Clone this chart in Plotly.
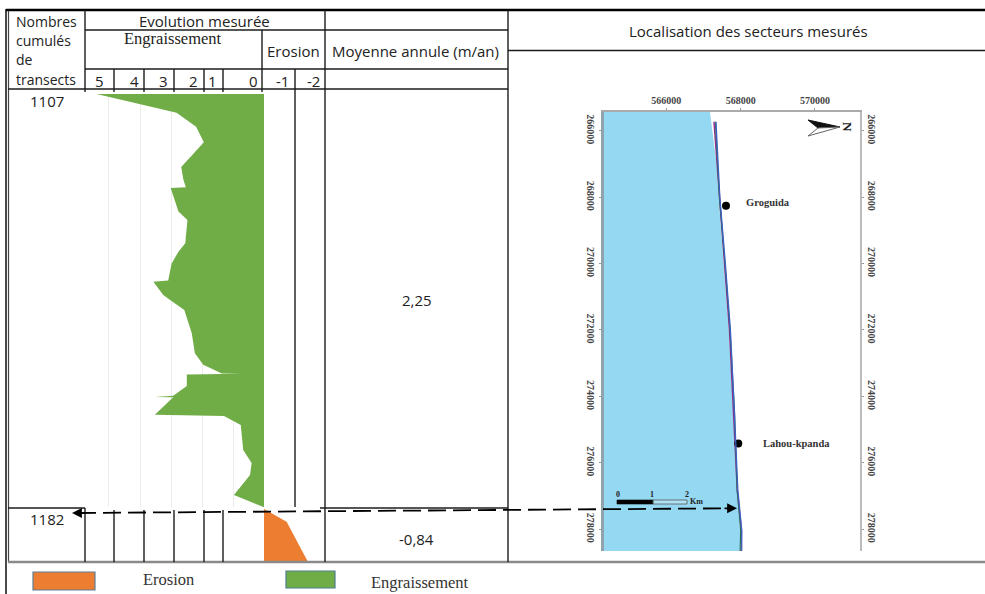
import plotly.graph_objects as go

W, H = 985, 594

# Cumulative transects and measured evolution (m/an)
gain_transects = [0, 50, 88, 129, 196, 230, 250, 252, 315, 338, 400, 423, 454, 500, 503, 539, 552, 579,
                  641, 695, 726, 749, 750, 752, 783, 809, 812, 813, 860, 863, 887, 954, 989, 1021, 1075, 1107]
gain_values = [5.40, 2.82, 2.19, 1.94, 2.67, 2.60, 2.52, 3.01, 2.76, 2.47, 2.54, 2.76, 2.98, 3.09, 3.57, 3.25, 3.03, 2.57,
               2.33, 2.23, 1.96, 1.36, 0.72, 2.49, 2.49, 2.93, 3.52, 2.93, 3.52, 1.29, 0.75, 0.67, 0.40, 0.45, 0.97, 0.02]
loss_transects = [1107, 1125, 1182]
loss_values = [0.0, -0.73, -1.42]

# Map: coast and shorelines (projected metres)
north = [265437, 267033, 268000, 270015, 272003, 274413, 276822, 278027, 278660]
coast_east = [567176, 567356, 567410, 567540, 567680, 567800, 567900, 567985, 568000]
west_edge = [564311]
shore_north = [265732, 267033, 268000, 270015, 272003, 274413, 276822, 278027, 278660]
shore_blue = [567337, 567395, 567440, 567590, 567725, 567830, 567925, 568030, 568025]
shore_purple = [567283, 567372, 567440, 567570, 567700, 567805, 567910, 568020, 568020]
shore_green = [567320, 567385, 567425, 567580, 567715, 567835, 567905, 568000, 567985]
place_names = ["Groguida", "Lahou-kpanda"]
place_east = [567606, 567937]
place_north = [268259, 275416]

x_ticks = [566000, 568000, 570000]
y_ticks = [266000, 268000, 270000, 272000, 274000, 276000, 278000]
scale_ticks = ["0", "1", "2"]


def px(x):
    return x / W


def py(y):
    return 1 - y / H


def dom_x(a, b):
    return [px(a), px(b)]


def dom_y(top, bottom):
    return [py(bottom), py(top)]


fig = go.Figure()

fig.add_trace(go.Scatter(x=gain_values, y=gain_transects, xaxis="x", yaxis="y", mode="lines",
                         line=dict(width=0, color="#70AD47"), fill="tozerox", fillcolor="#70AD47"))
fig.add_trace(go.Scatter(x=loss_values, y=loss_transects, xaxis="x2", yaxis="y2", mode="lines",
                         line=dict(width=0, color="#ED7D31"), fill="tozerox", fillcolor="#ED7D31"))

fig.add_trace(go.Scatter(x=coast_east + west_edge * 2 + coast_east[:1],
                         y=north + [north[-1], north[0], north[0]],
                         xaxis="x3", yaxis="y3", mode="lines", line=dict(width=0),
                         fill="toself", fillcolor="#95D8F2"))
fig.add_trace(go.Scatter(x=shore_blue, y=shore_north, xaxis="x3", yaxis="y4", mode="lines",
                         line=dict(width=1.3, color="#3A62C4")))
fig.add_trace(go.Scatter(x=shore_purple, y=shore_north, xaxis="x3", yaxis="y3", mode="lines",
                         line=dict(width=1.5, color="#93308C")))
fig.add_trace(go.Scatter(x=shore_green, y=shore_north, xaxis="x3", yaxis="y3", mode="lines",
                         line=dict(width=1.1, color="#2F6B55")))
fig.add_trace(go.Scatter(x=place_east, y=place_north, xaxis="x3", yaxis="y3", mode="markers",
                         marker=dict(size=8, color="black")))

x_range = [5.774, -2.129]
map_tick_font = dict(family="Liberation Serif", size=10, color="#444", weight="bold")

shapes = []


def seg(x0, y0, x1, y1, color="#1c1c1c", width=1.4, dash=None):
    line = dict(color=color, width=width)
    if dash:
        line["dash"] = dash
    shapes.append(dict(type="line", xref="paper", yref="paper", x0=px(x0), y0=py(y0), x1=px(x1), y1=py(y1), line=line))


# outer frame
seg(6, 9, 6, 594, width=1.6)
seg(8.5, 10, 8.5, 562, width=1.2, color="#444")
seg(6, 10, 985, 10, color="#000", width=2.6)
seg(8, 562, 985, 562, color="#8a8a8a", width=2.6)
# header rows
seg(85, 30, 508, 30)
seg(85, 69, 508, 69)
seg(8, 89, 508, 89)
seg(508, 50.5, 985, 50.5)
seg(8, 508, 85, 508)
seg(320, 508, 508, 508)
# columns
seg(85, 10, 85, 92)
seg(262, 30, 262, 92)
seg(325, 10, 325, 562)
seg(508, 10, 508, 562)
for xp in (114, 144, 174, 204, 223):
    seg(xp, 69, xp, 92)
    seg(xp, 510, xp, 562)
seg(85, 508, 85, 562)
seg(295, 69, 295, 507)
# dashed link between the table and the map
seg(78, 513, 730, 508.3, color="#000", width=1.8, dash="18px,7px")

# legend boxes
shapes.append(dict(type="rect", xref="paper", yref="paper", x0=px(33), x1=px(95), y0=py(590), y1=py(572),
                   fillcolor="#ED7D31", line=dict(color="#5f7f99", width=1.2)))
shapes.append(dict(type="rect", xref="paper", yref="paper", x0=px(286), x1=px(335), y0=py(588), y1=py(571),
                   fillcolor="#70AD47", line=dict(color="#4f7f8f", width=1.2)))
# scale bar
shapes.append(dict(type="rect", xref="paper", yref="paper", x0=px(617), x1=px(653), y0=py(504), y1=py(500),
                   fillcolor="#000", line=dict(color="#000", width=0.6)))
shapes.append(dict(type="rect", xref="paper", yref="paper", x0=px(653), x1=px(687), y0=py(504), y1=py(500),
                   fillcolor="rgba(255,255,255,0.25)", line=dict(color="#555", width=0.8)))
# north arrow
def poly(points, fill, outline):
    pth = "M " + " L ".join(f"{px(a):.5f},{py(b):.5f}" for a, b in points) + " Z"
    shapes.append(dict(type="path", xref="paper", yref="paper", path=pth, fillcolor=fill,
                       line=dict(color=outline, width=1)))


poly([(808, 120), (840, 127), (818, 128)], "#111", "#111")
poly([(808, 136), (840, 127), (818, 128)], "#fff", "#666")

ann = []


def note(x, y, text, size=15, family="Open Sans", color="#222", anchor="center", angle=0, bold=False):
    if bold:
        text = f"<b>{text}</b>"
    ann.append(dict(xref="paper", yref="paper", x=px(x), y=py(y), text=text, showarrow=False,
                    xanchor=anchor, yanchor="middle", textangle=angle,
                    font=dict(family=family, size=size, color=color)))


SERIF = "Liberation Serif"
note(14, 22, "Nombres", size=14, anchor="left")
note(14, 41, "cumulés", size=14, anchor="left")
note(14, 60, "de", size=14, anchor="left")
note(14, 79, "transects", size=14, anchor="left")
note(204, 21, "Evolution mesurée")
note(173, 39, "Engraissement", size=16.5, family=SERIF)
note(293, 51, "Erosion")
note(415, 51, "Moyenne annule (m/an)")
for lab, xp in zip(["5", "4", "3", "2", "1", "0", "-1", "-2"], [99, 134, 163, 193, 212, 253, 282, 313]):
    note(xp, 81, lab)
note(47, 101, "1107")
note(47, 519, "1182")
note(417, 300, "2,25")
note(416, 539, "-0,84")
note(748, 31, "Localisation des secteurs mesurés")
note(168, 579, "Erosion", size=16.5, family=SERIF, color="#333")
note(420, 582, "Engraissement", size=16.5, family=SERIF, color="#333")
note(768, 203, place_names[0], size=10.5, family=SERIF, bold=True, color="#333")
note(796.5, 443, place_names[1], size=10.5, family=SERIF, bold=True, color="#333")
for lab, xp in zip(scale_ticks, [618, 652, 687]):
    note(xp, 494, lab, size=8, family=SERIF, bold=True)
note(696, 501, "Km", size=8, family=SERIF, bold=True)
note(847, 127, "N", size=13, family=SERIF, bold=True, angle=90)

# arrow heads of the dashed link
for xp, yp, off in ((72, 513, 10), (737, 508.3, -14)):
    ann.append(dict(xref="paper", yref="paper", x=px(xp), y=py(yp), ax=off, ay=0, text="", showarrow=True,
                    arrowhead=2, arrowsize=1.1, arrowwidth=1.8, arrowcolor="#000"))

map_x_dom = dom_x(603.5, 860)
map_y_dom = dom_y(112, 551)
map_y_range = [278654, 265437]
fig.update_layout(
    width=W, height=H, autosize=False, margin=dict(l=0, r=0, t=0, b=0),
    paper_bgcolor="white", plot_bgcolor="rgba(0,0,0,0)", showlegend=False,
    shapes=shapes, annotations=ann,
    xaxis=dict(domain=dom_x(85, 330), range=x_range, anchor="y", tickvals=[5, 4, 3, 2, 1],
               showgrid=True, gridcolor="#ececec", gridwidth=1, showticklabels=False, ticks="",
               zeroline=False, showline=False),
    yaxis=dict(domain=dom_y(94, 507), range=[1107, 0], anchor="x", visible=False),
    xaxis2=dict(domain=dom_x(85, 330), range=x_range, anchor="y2", visible=False),
    yaxis2=dict(domain=dom_y(509, 562), range=[1182, 1107], anchor="x2", visible=False),
    xaxis3=dict(domain=map_x_dom, range=[564311, 571211], anchor="y3", side="top", tickvals=x_ticks,
                tickformat="d", tickfont=map_tick_font, showgrid=False, zeroline=False,
                showline=True, linecolor="#aaaaaa", linewidth=2, ticks="outside", ticklen=2, tickcolor="#999"),
    yaxis3=dict(domain=map_y_dom, range=map_y_range, anchor="x3", side="left", tickvals=y_ticks,
                tickformat="d", tickangle=90, tickfont=map_tick_font, showgrid=False, zeroline=False,
                showline=True, linecolor="#8fa3ad", linewidth=2.5, ticks="outside", ticklen=2, tickcolor="#999"),
    yaxis4=dict(domain=map_y_dom, range=map_y_range, anchor="x3", side="right", overlaying="y3", tickvals=y_ticks,
                tickformat="d", tickangle=90, tickfont=map_tick_font, showgrid=False, zeroline=False,
                showline=True, linecolor="#bbbbbb", linewidth=2, ticks="outside", ticklen=2, tickcolor="#999"),
)

fig.write_html("out.html", config=dict(displayModeBar=False),
               post_script="document.body.style.margin='0';")
